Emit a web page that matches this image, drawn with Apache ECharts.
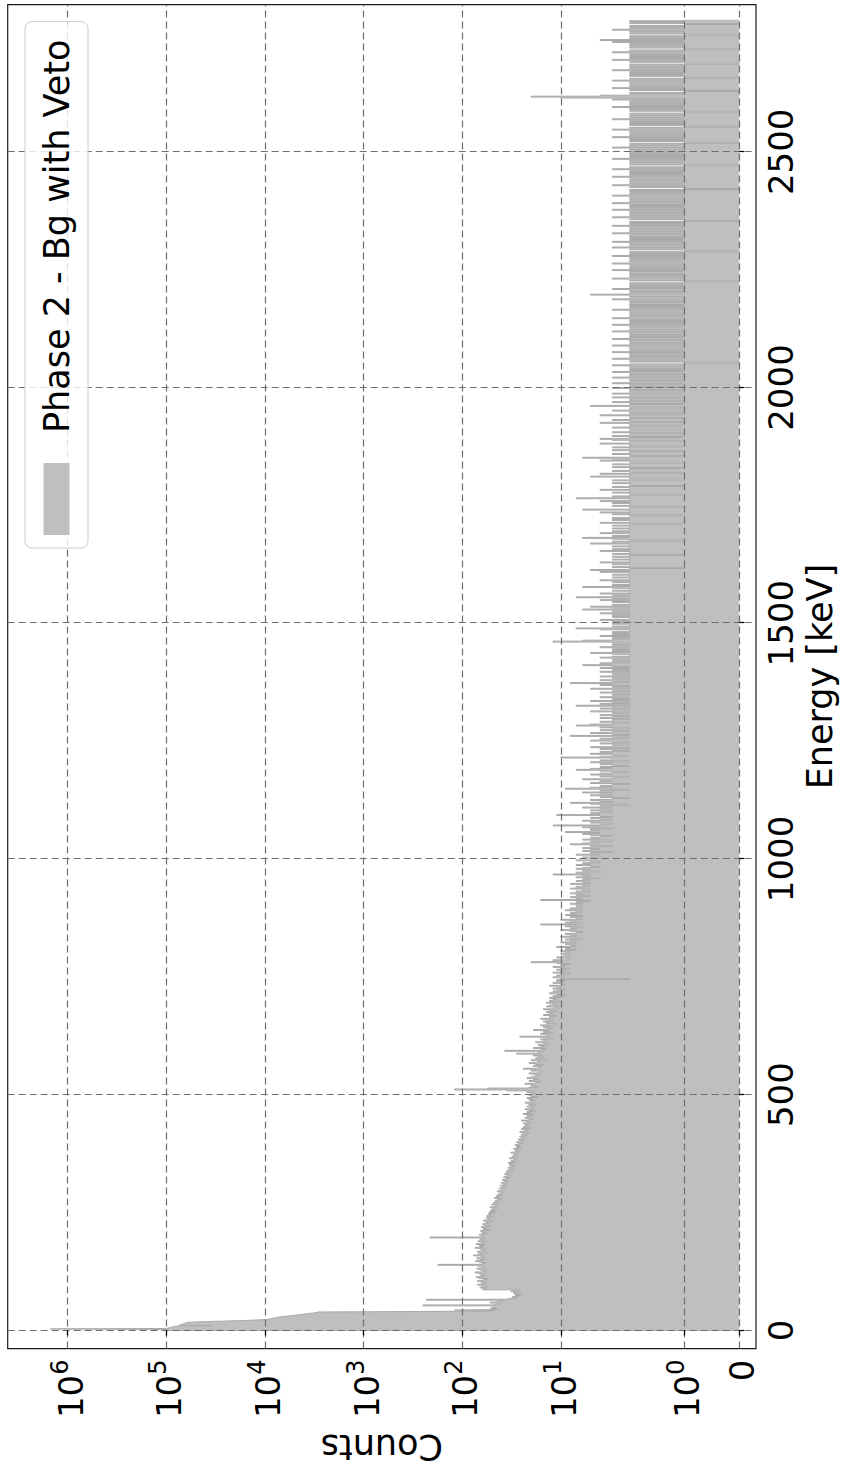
<!DOCTYPE html>
<html>
<head>
<meta charset="utf-8">
<title>Phase 2 - Bg with Veto</title>
<script src="https://cdn.jsdelivr.net/npm/echarts@6/dist/echarts.min.js"></script>
<style>
  html, body { margin: 0; padding: 0; background: #ffffff; overflow: hidden; }
  /* The figure is laid out landscape and turned a quarter turn counter-clockwise. */
  #figure {
    position: absolute; left: 0; top: 0;
    width: 1472px; height: 844px;
    transform-origin: 0 0;
    transform: translate(0, 1472px) rotate(-90deg);
  }
</style>
</head>
<body>
<div id="figure"></div>
<script>
// Threshold region, 1 keV bins from 0 keV
const peakStart = 0;
const peakWidth = 1;
const peakCounts = [
  100000, 100000, 120000, 1500000, 100000, 96000, 92000, 88000, 84000, 80000,
  34000, 74000, 71000, 69000, 67000, 65000, 63000, 61000, 48000, 34000,
  23000, 16000, 12000, 9600, 9000, 8500, 8100, 7800, 7300, 6700,
  6100, 5500, 5000, 4600, 4200, 3800, 3500, 3200, 3000, 2900,
  270, 60, 48, 120, 45, 50, 44, 52, 46, 48
];

// Low-energy continuum, 2 keV bins from 50 keV
const lowStart = 50;
const lowWidth = 2;
const lowCounts = [
  48,250,46,40,52,44,38,230,34,28,31,26,29,25,30,27,32,26,62,58,66,55,63,70,57,
  64,58,70,61,55,67,72,60,65,58,68,74,62,57,66,71,59,64,69,176,63,58,67,73,60,
  66,71,59,64,77,62,68,55,70,63,58,66,74,61,67,59,72,64,57,69,62,66,58,212,63,
  60,67,55,63,58,65,52,61,57,64,50,59,62,54,58,49,61,55,52,57,48,56,51,54,47,
  53,46,51,49,44,52,47,43,50,45,48,41,46,44,40,47,42,45,39,43,41,38,44,40,37,
  42,39,36,41,38,35,40,37,34,39,36,33,38,35,32,37,34,36,31,35,33,30,34,32,29,
  33,31,34,29,32,30,28,33,29,31,27,30,28,32,26,29,27,30,25,28,26,29,27,24,28,
  26,24,27,25,23,26,22,25,24,21,26,23,22,25,20,24,22,23,21,24,20,22,25,21,19,
  23,21,22,19,24,20,22,18,21,23,19,20,22,18,21,19,23,20,18,21,19,22,17,20,21
];

// Continuum and lines, 2 keV bins from 500 keV up to 2780 keV
const bodyStart = 500;
const bodyWidth = 2;
const bodyCounts = [
  20,18,22,19,35,120,55,21,17,20, 19,23,18,16,21,19,17,22,20,18, 16,19,21,17,15,20,18,24,17,16, 19,15,18,21,17,16,20,14,18,17, 15,19,16,28,17,15,37,16,14,19,
  16,14,17,15,13,18,15,14,16,12, 15,26,13,14,16,12,15,13,19,14, 12,15,13,16,11,14,13,15,12,14, 16,12,13,11,15,13,12,14,11,13, 15,12,10,14,13,11,12,14,10,13,
  12,11,13,10,12,9,11,13,10,12, 11,9,12,10,11,13,9,10,12,11, 9,11,2,10,12,9,11,10,8,12, 10,9,11,8,10,12,9,10,8,11, 20,10,12,8,9,11,10,8,9,10,
  9,8,10,7,9,8,11,7,8,9, 7,10,8,7,9,6,8,10,7,8, 9,7,6,8,10,7,8,6,9,7, 16,6,9,7,8,10,6,7,8,6, 9,7,8,6,7,9,6,8,7,6,
  7,6,8,6,7,5,16,6,7,8, 5,7,6,8,5,7,6,5,8,6, 7,5,6,8,5,6,7,5,6,4, 7,5,6,12,5,7,4,6,5,7, 6,4,5,7,5,6,4,5,7,5,
  5,6,4,5,7,4,5,3,6,5, 4,6,5,3,5,8,6,4,5,3, 6,4,5,4,3,5,6,4,9,5, 4,5,3,6,4,12,4,3,5,4, 6,3,4,5,3,4,11,4,5,3,
  4,5,3,4,6,3,4,2,5,8, 3,4,5,3,2,4,3,5,4,3, 6,3,4,2,9,5,3,4,3,2, 5,4,3,4,6,3,2,4,3,5, 4,3,2,4,7,5,3,4,2,3,
  4,3,5,2,4,3,3,10,4,2, 3,5,3,4,2,3,4,2,5,3, 3,2,4,3,2,5,3,4,2,3, 8,2,3,5,3,2,4,3,2,4, 3,7,5,3,2,4,3,3,2,4,
  3,2,4,3,2,3,5,2,3,4, 2,3,7,2,4,2,3,5,2,3, 2,4,3,2,3,2,4,3,2,3, 5,2,3,2,4,3,8,2,3,4, 2,3,2,4,2,3,3,2,4,2,
  3,2,4,2,3,6,3,4,2,3, 2,3,2,4,3,2,2,3,5,2, 3,2,3,2,4,3,2,3,2,3, 12,6,3,2,3,2,4,2,3,2, 3,2,2,4,7,2,3,2,2,3,
  2,3,2,4,2,2,3,2,3,2, 4,2,3,2,6,3,2,5,2,3, 2,2,3,2,4,2,3,7,2,3, 2,4,2,2,3,2,2,3,6,2, 3,2,2,3,2,4,2,2,3,2,
  2,3,2,2,4,2,5,2,1,3, 2,2,3,2,4,2,2,3,2,2, 3,2,1,3,2,2,4,2,3,2, 2,3,2,2,5,2,3,1,2,3, 6,2,3,2,2,4,2,3,2,2,
  3,2,2,3,2,1,4,2,2,3, 2,3,2,2,1,3,2,4,2,2, 6,2,2,1,3,2,2,3,2,4, 2,2,7,2,3,2,1,2,3,2, 2,4,2,2,3,1,2,2,3,2,
  2,3,1,2,2,5,2,2,4,1, 2,3,2,2,1,3,2,2,3,2, 1,2,4,2,3,6,2,1,2,3, 2,2,1,3,2,2,3,1,2,2, 4,2,2,1,3,4,2,1,3,2,
  2,1,3,2,2,1,2,3,2,1, 2,2,4,1,2,3,2,1,2,2, 4,1,2,2,1,3,2,2,1,2, 5,2,1,2,3,1,2,2,1,3, 2,1,2,3,1,2,2,1,2,3,
  1,2,2,1,3,2,1,2,2,1, 3,1,2,2,1,2,3,1,2,1, 2,2,1,3,2,1,0,2,1,2, 3,1,2,1,2,2,1,3,1,2, 1,2,2,1,3,1,2,1,2,2,
  1,3,2,1,2,1,2,2,1,3, 1,2,1,2,2,1,3,1,2,1, 2,1,2,3,1,2,1,2,1,2, 2,1,3,1,2,1,2,1,2,2, 1,2,1,3,2,1,2,1,5,2,
  1,2,1,2,3,1,2,1,2,1, 2,1,0,2,1,3,1,2,1,2, 1,2,2,1,3,1,2,1,2,1, 2,3,1,2,1,2,1,2,1,3, 1,2,1,2,0,1,2,1,3,1,
  2,1,2,1,3,1,2,1,2,1, 2,2,1,3,1,2,1,2,1,2, 1,3,1,2,1,2,0,1,2,1, 3,1,2,1,2,1,2,1,3,1, 2,1,2,1,2,3,1,2,1,2,
  1,2,1,3,1,2,1,2,1,2, 0,1,2,1,3,1,2,1,2,1, 2,1,2,3,1,2,1,2,1,2, 1,3,1,2,1,0,2,1,2,1, 2,1,3,1,2,1,2,1,2,1,
  2,1,2,1,3,1,2,1,2,0, 1,2,1,2,1,3,1,2,1,2, 1,2,1,3,1,2,0,1,2,1, 2,1,2,1,3,1,2,1,2,1, 2,1,0,2,1,2,1,3,1,2,
  1,2,1,2,1,3,1,10,20,4, 2,1,2,1,0,2,1,3,1,2, 1,2,1,2,1,3,1,2,0,1, 2,1,2,1,2,1,3,1,2,1, 2,1,2,0,1,2,1,3,1,2,
  1,2,1,2,1,3,1,2,0,1, 2,1,2,1,2,1,3,1,4,1, 2,1,2,0,1,2,1,2,1,3, 1,2,1,2,1,0,2,1,2,1
];

const energyTicks = [0, 500, 1000, 1500, 2000, 2500];
const countTicks = [0, 1, 10, 100, 1000, 10000, 100000, 1000000];
const countTickBases = ['0', '10', '10', '10', '10', '10', '10', '10'];
const countTickExps = ['', '0', '1', '2', '3', '4', '5', '6'];
const seriesName = 'Phase 2 - Bg with Veto';

// Symmetric log scale: linear below the threshold, logarithmic above.
const LINTHRESH = 2;
const LINSCALE = 1;
const LOGBASE = 10;
const linScaleAdj = LINSCALE / (1 - 1 / LOGBASE);
function symlog(c) {
  const a = Math.abs(c);
  if (a <= LINTHRESH) return c * linScaleAdj;
  return Math.sign(c) * LINTHRESH * (linScaleAdj + Math.log(a / LINTHRESH) / Math.log(LOGBASE));
}

// Histogram outline as left-edge steps: starts from zero, closed at the last bin's right edge.
function histPoints() {
  const pts = [[peakStart, symlog(0)]];
  peakCounts.forEach((c, i) => pts.push([peakStart + i * peakWidth, symlog(c)]));
  lowCounts.forEach((c, i) => pts.push([lowStart + i * lowWidth, symlog(c)]));
  bodyCounts.forEach((c, i) => pts.push([bodyStart + i * bodyWidth, symlog(c)]));
  const last = bodyCounts[bodyCounts.length - 1];
  pts.push([bodyStart + bodyCounts.length * bodyWidth, symlog(last)]);
  return pts;
}

const countTickPos = countTicks.map(symlog);
const FONT = 'DejaVu Sans';
const gridLine = { type: [7, 4], color: '#6e6e6e', width: 1.2 };

const chart = echarts.init(document.getElementById('figure'), null, { renderer: 'svg', width: 1472, height: 844 });
chart.setOption({
  animation: false,
  backgroundColor: '#ffffff',
  textStyle: { fontFamily: FONT },
  grid: {
    left: 116, right: 4.7, top: 7.7, bottom: 88,
    show: true, borderColor: '#1a1a1a', borderWidth: 1.2, backgroundColor: 'transparent'
  },
  legend: {
    left: 924, top: 25,
    padding: [14, 18, 14, 13],
    backgroundColor: 'rgba(255,255,255,0.8)',
    borderColor: '#cccccc', borderWidth: 1, borderRadius: 7,
    itemWidth: 72, itemHeight: 26,
    textStyle: { fontFamily: FONT, fontSize: 35, color: '#000', lineHeight: 35, padding: [0, 0, 0, 25] },
    data: [{ name: seriesName, icon: 'rect', itemStyle: { color: '#bfbfbf', borderWidth: 0 } }]
  },
  xAxis: {
    type: 'value',
    min: -38.6, max: 2812,
    name: 'Energy [keV]',
    nameLocation: 'middle', nameGap: 44,
    nameTextStyle: { fontFamily: FONT, fontSize: 35, color: '#000' },
    axisLine: { show: false },
    axisTick: { show: true, length: 5, inside: false, customValues: energyTicks, lineStyle: { color: '#000', width: 1.2 } },
    axisLabel: {
      customValues: energyTicks, margin: 8, fontFamily: FONT, fontSize: 34, color: '#000',
      formatter: function (v) { return String(Math.round(v)); }
    },
    splitLine: { show: true, lineStyle: gridLine }
  },
  yAxis: {
    type: 'value',
    min: -0.339, max: 14.837,
    name: 'Counts',
    nameLocation: 'middle', nameGap: 64, nameRotate: 90,
    nameTextStyle: { fontFamily: FONT, fontSize: 35, color: '#000' },
    axisLine: { show: false },
    axisTick: { show: true, length: 5, inside: false, customValues: countTickPos, lineStyle: { color: '#000', width: 1.2 } },
    axisLabel: {
      customValues: countTickPos, margin: 11,
      formatter: function (val) {
        let i = 0, best = Infinity;
        countTickPos.forEach((p, k) => { const d = Math.abs(p - val); if (d < best) { best = d; i = k; } });
        return countTickExps[i] ? '{b|' + countTickBases[i] + '}{s|' + countTickExps[i] + '}' : '{b|' + countTickBases[i] + '}';
      },
      rich: {
        b: { fontFamily: FONT, fontSize: 34, color: '#000', lineHeight: 40, verticalAlign: 'bottom' },
        s: { fontFamily: FONT, fontSize: 24, color: '#000', lineHeight: 30, verticalAlign: 'top' }
      }
    },
    splitLine: { show: true, lineStyle: gridLine }
  },
  series: [{
    name: seriesName,
    type: 'line',
    step: 'end',
    z: -1,
    symbol: 'none',
    showSymbol: false,
    silent: true,
    data: histPoints(),
    lineStyle: { color: '#a9a9a9', width: 1 },
    itemStyle: { color: '#bfbfbf' },
    areaStyle: { color: '#bfbfbf', opacity: 1 }
  }]
});
</script>
</body>
</html>
